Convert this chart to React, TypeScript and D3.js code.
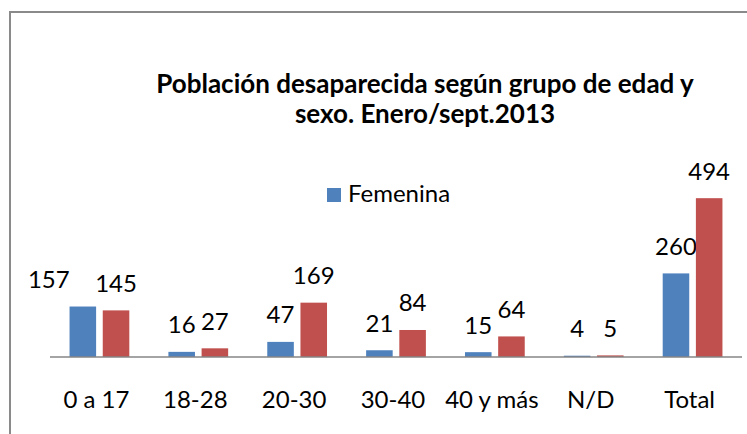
import * as d3 from 'd3';
import React from 'react';

const width = 747;
const height = 434;
const margin = { left: 50, right: 5, baseline: 357 };
const blue = '#4F81BD';
const red = '#C0504D';
const font = 'Lato, "Liberation Sans", sans-serif';

const categories = ['0 a 17', '18-28', '20-30', '30-40', '40 y más', 'N/D', 'Total'];
const femenina = [157, 16, 47, 21, 15, 4, 260];
const masculina = [145, 27, 169, 84, 64, 5, 494];
const seriesNames = ['Femenina', 'Masculina'];
const titleLines = ['Población desaparecida según grupo de edad y', 'sexo. Enero/sept.2013'];

// the first label sits a bit left of its bar in the original
const labelDx = [[-34, 0], [0, 0], [0, 0], [0, 0], [0, 0], [0, 0], [0, 0]];

const App = () => {
  const x0 = d3.scaleBand().domain(categories).range([margin.left, 742]).padding(0);
  const x1 = d3.scaleBand().domain(seriesNames).range([0, x0.bandwidth()])
    .paddingInner(0.2).paddingOuter(0.589);
  const y = d3.scaleLinear().domain([0, 600]).range([margin.baseline, margin.baseline - 0.3215 * 600]);

  const rows = categories.map((c, i) => ({ c, i, vals: [femenina[i], masculina[i]] }));
  const colors = [blue, red];

  return (
    <svg width={width} height={height} style={{ position: 'absolute', left: 0, top: 0, background: '#fff' }}>
      <rect x={10} y={12} width={800} height={500} fill="#fff" stroke="#8a8a8a" strokeWidth={2} />
      <g fontFamily={font} fontWeight="bold" fontSize={26} textAnchor="middle" fill="#000">
        {titleLines.map((t, i) => (
          <text key={i} x={425} y={93 + i * 30}>{t}</text>
        ))}
      </g>
      <g>
        <rect x={327} y={188} width={14} height={14} fill={blue} />
        <text x={348} y={202} fontFamily={font} fontSize={24} fill="#000">{seriesNames[0]}</text>
      </g>
      {rows.map(r => (
        <g key={r.c} transform={`translate(${x0(r.c)},0)`}>
          {r.vals.map((v, j) => (
            <g key={j}>
              <rect x={x1(seriesNames[j])} y={y(v)} width={x1.bandwidth()} height={y(0) - y(v)} fill={colors[j]} />
              <text x={x1(seriesNames[j])! + x1.bandwidth() / 2 + labelDx[r.i][j]} y={y(v) - 27}
                dy="0.35em" textAnchor="middle" fontFamily={font} fontSize={24} fill="#000">{v}</text>
            </g>
          ))}
          <text x={x0.bandwidth() / 2 - 3} y={408} textAnchor="middle" fontFamily={font} fontSize={24} fill="#000">{r.c}</text>
        </g>
      ))}
      <line x1={margin.left} x2={742} y1={y(0)} y2={y(0)} stroke="#868686" strokeWidth={1.5} />
    </svg>
  );
};

export default App;
